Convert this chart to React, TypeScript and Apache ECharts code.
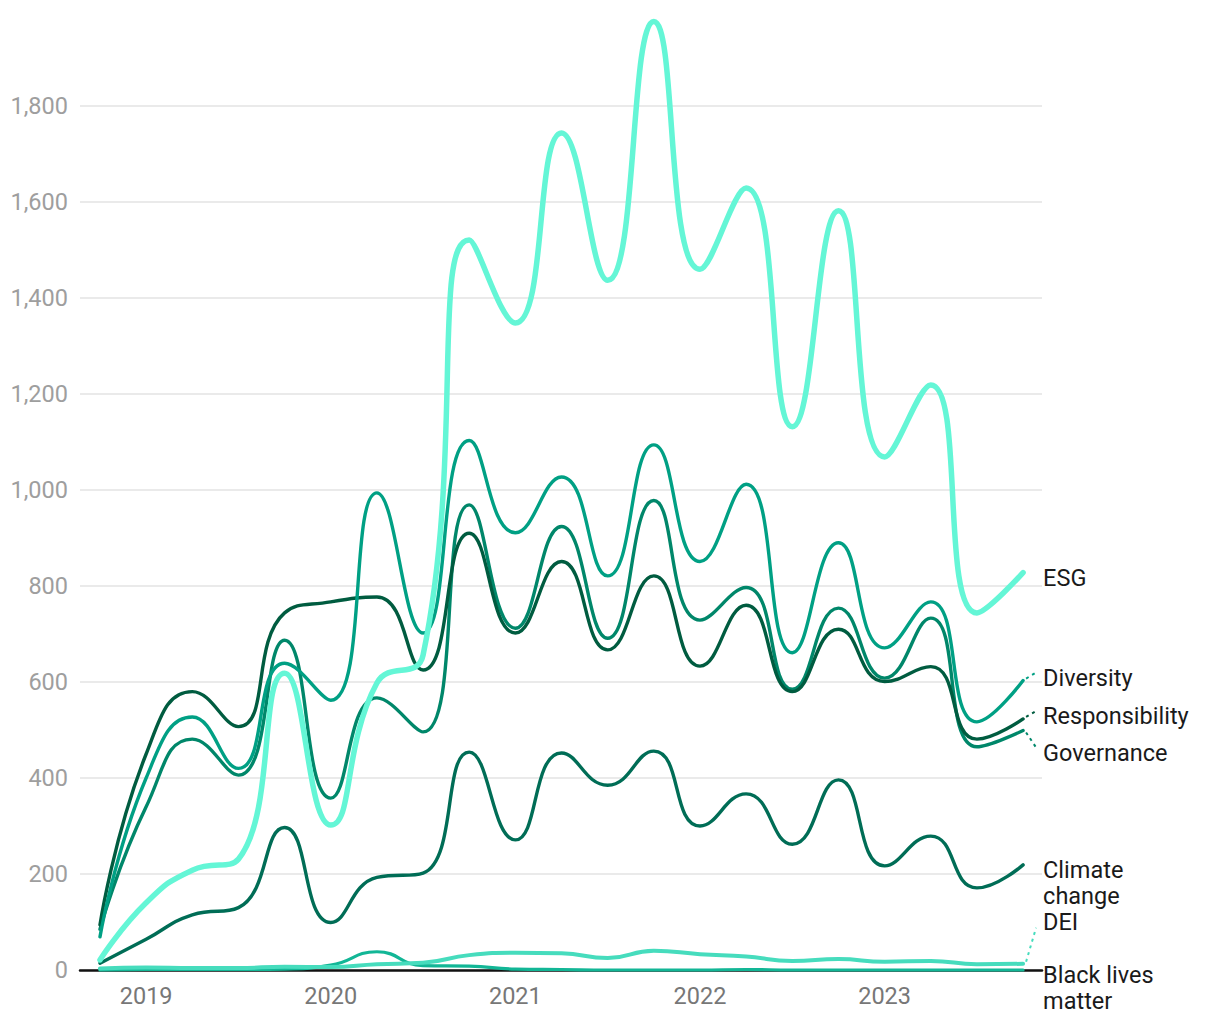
import React, { useEffect, useRef } from "react";
import * as echarts from "echarts";

const QUARTER_INDEX = [0, 1, 2, 3, 4, 5, 6, 7, 8, 9, 10, 11, 12, 13, 14, 15, 16, 17, 18, 19, 20];
const YEAR_TICKS = [1, 5, 9, 13, 17];
const YEAR_LABELS = ["2019", "2020", "2021", "2022", "2023"];

const ESG = [21, 140, 208, 231, 618, 302, 598, 656, 1521, 1348, 1744, 1437, 1976, 1460, 1629, 1132, 1582, 1069, 1219, 744, 828];
const DIVERSITY = [69, 400, 527, 420, 639, 562, 994, 702, 1103, 911, 1027, 821, 1094, 851, 1012, 661, 890, 671, 767, 517, 603];
const RESPONSIBILITY = [94, 450, 580, 507, 744, 767, 777, 625, 910, 702, 851, 667, 821, 633, 760, 580, 710, 601, 632, 481, 523];
const GOVERNANCE = [85, 340, 481, 406, 687, 358, 567, 496, 969, 712, 924, 691, 978, 729, 797, 585, 754, 608, 733, 465, 499];
const CLIMATE = [14, 64, 115, 130, 297, 99, 193, 202, 454, 271, 452, 385, 456, 300, 367, 262, 396, 217, 279, 171, 219];
const DEI = [3, 5, 4, 4, 7, 6, 12, 15, 31, 36, 35, 25, 40, 33, 28, 19, 23, 17, 19, 12, 13];
const BLM = [0, 1, 1, 1, 2, 10, 38, 9, 8, 2, 1, 0, 0, 0, 1, 0, 0, 0, 0, 0, 0];

const FONT = "Roboto, 'Noto Sans', sans-serif";

type S = {
  name: string;
  label: string;
  data: number[];
  color: string;
  width: number;
  dy: number;
  leader: boolean;
};

const SERIES: S[] = [
  { name: "Black lives matter", label: "Black lives\nmatter", data: BLM, color: "#12b696", width: 3.2, dy: 18, leader: false },
  { name: "DEI", label: "DEI", data: DEI, color: "#46dcbd", width: 4, dy: -42, leader: true },
  { name: "Climate change", label: "Climate\nchange", data: CLIMATE, color: "#006d56", width: 3.4, dy: 18, leader: false },
  { name: "Governance", label: "Governance", data: GOVERNANCE, color: "#00876a", width: 3.4, dy: 23, leader: true },
  { name: "Responsibility", label: "Responsibility", data: RESPONSIBILITY, color: "#005c40", width: 3.4, dy: -3, leader: true },
  { name: "Diversity", label: "Diversity", data: DIVERSITY, color: "#00a084", width: 3.4, dy: -3, leader: true },
  { name: "ESG", label: "ESG", data: ESG, color: "#64f6d6", width: 5.5, dy: 5, leader: false },
];

export default function App() {
  const ref = useRef<HTMLDivElement>(null);
  useEffect(() => {
    if (!ref.current) return;
    const chart = echarts.init(ref.current, undefined, { renderer: "svg" });
    chart.setOption({
      animation: false,
      backgroundColor: "#ffffff",
      textStyle: { fontFamily: FONT },
      grid: { left: 80, right: 178, top: 106, bottom: 50, containLabel: false },
      xAxis: {
        type: "value",
        min: -0.433,
        max: 20.41,
        splitLine: { show: false },
        axisTick: { show: false },
        axisLine: { show: true, lineStyle: { color: "#111111", width: 2.5 } },
        axisLabel: {
          customValues: YEAR_TICKS,
          formatter: (v: number) => {
            const i = YEAR_TICKS.indexOf(Math.round(v));
            return i >= 0 ? YEAR_LABELS[i] : "";
          },
          color: "#777777",
          fontSize: 23.5,
          fontFamily: FONT,
          margin: 14,
        },
      },
      yAxis: {
        type: "value",
        min: 0,
        max: 1800,
        interval: 200,
        axisLine: { show: false },
        axisTick: { show: false },
        splitLine: { show: true, lineStyle: { color: "#e3e3e3", width: 1.5 } },
        axisLabel: {
          formatter: (v: number) => v.toLocaleString("en-US"),
          color: "#9e9e9e",
          fontSize: 23.5,
          fontFamily: FONT,
          margin: 12,
        },
      },
      series: SERIES.map((s) => ({
        name: s.name,
        type: "line",
        data: s.data.map((v, i) => [QUARTER_INDEX[i], v]),
        smooth: 0.5,
        showSymbol: false,
        clip: false,
        lineStyle: { color: s.color, width: s.width, cap: "round", join: "round" },
        itemStyle: { color: s.color },
        endLabel: {
          show: true,
          formatter: () => s.label,
          color: "#1a1a1a",
          fontSize: 23.5,
          lineHeight: s.label.indexOf("\n") >= 0 ? 26 : 22,
          fontFamily: FONT,
          align: "left",
          verticalAlign: "middle",
          distance: 0,
          offset: [20, s.dy],
        },
      })),
    });

    const graphics: any[] = [];
    SERIES.forEach((s) => {
      if (!s.leader) return;
      const last = s.data.length - 1;
      const p = chart.convertToPixel({ xAxisIndex: 0, yAxisIndex: 0 }, [QUARTER_INDEX[last], s.data[last]]) as number[];
      const sign = s.dy >= 0 ? 1 : -1;
      const ly = p[1] + s.dy - sign * 6;
      graphics.push({
        type: "line",
        shape: { x1: p[0] + 3, y1: p[1] + sign * 2, x2: p[0] + 13, y2: s.dy === -3 ? p[1] - 8 : ly },
        style: { stroke: s.color, lineWidth: 2, lineDash: [3, 4] },
        silent: true,
      });
    });
    chart.setOption({ graphic: graphics });

    return () => chart.dispose();
  }, []);
  return <div ref={ref} style={{ position: "fixed", left: 0, top: 0, width: 1220, height: 1020 }} />;
}
